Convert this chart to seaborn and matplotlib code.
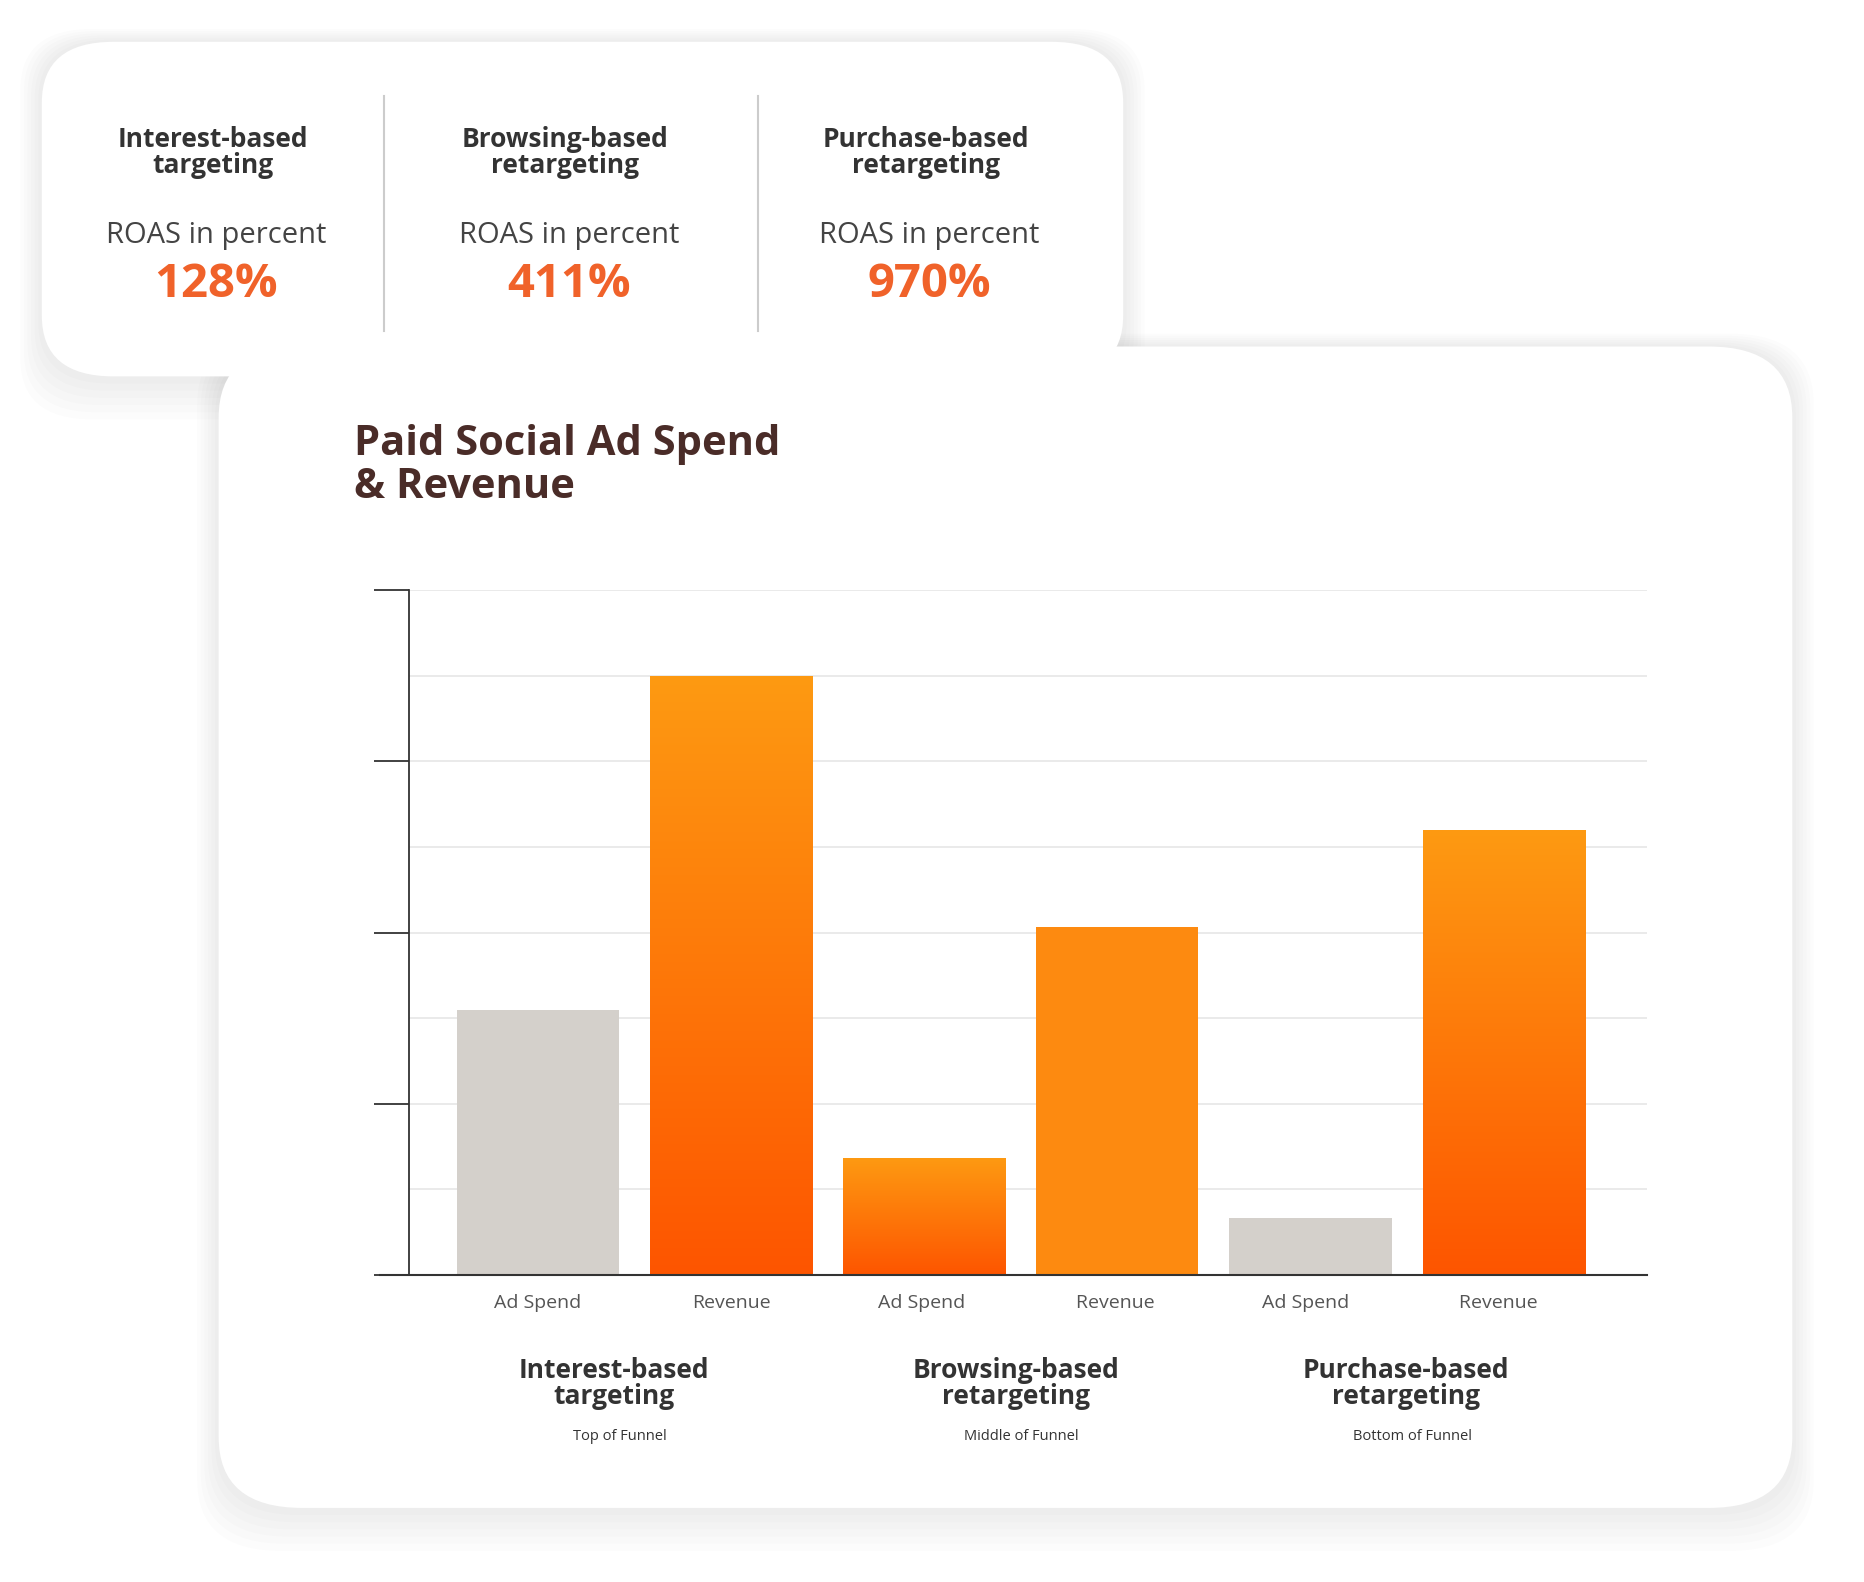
import matplotlib
matplotlib.use("Agg")
import matplotlib.pyplot as plt
import seaborn as sns
import numpy as np
import pandas as pd
from matplotlib.patches import FancyBboxPatch
from matplotlib.colors import LinearSegmentedColormap

bar_labels = ["Ad Spend", "Revenue", "Ad Spend ", "Revenue ", "Ad Spend  ", "Revenue  "]
bar_values = [3.09, 7.0, 1.37, 4.06, 0.66, 5.2]
bar_kind = ["spend", "revenue", "spend", "revenue", "spend", "revenue"]
groups = ["Interest-based\ntargeting", "Browsing-based\nretargeting", "Purchase-based\nretargeting"]
funnel = ["Top of Funnel", "Middle of Funnel", "Bottom of Funnel"]
roas = ["128%", "411%", "970%"]

W, H = 1560, 1324
fig = plt.figure(figsize=(18.64, 15.82), dpi=100)
fig.patch.set_facecolor("white")
FONT = "Open Sans"

def fx(x): return x / W
def fy(y): return 1 - y / H

def card(x0, y0, x1, y1, r):
    for i, a in enumerate([0.012, 0.012, 0.012, 0.012, 0.012, 0.012]):
        s = 6 + i * 6
        p = FancyBboxPatch((fx(x0 - s * 0.5), fy(y1 + s)), fx(x1 - x0 + s), (y1 - y0 + s * 1.3) / H,
                           boxstyle=f"round,pad=0,rounding_size={r/W}", transform=fig.transFigure,
                           fc="black", ec="none", alpha=a, zorder=1)
        fig.add_artist(p)
    p = FancyBboxPatch((fx(x0), fy(y1)), fx(x1 - x0), (y1 - y0) / H,
                       boxstyle=f"round,pad=0,rounding_size={r/W}", transform=fig.transFigure,
                       fc="white", ec="none", zorder=2)
    fig.add_artist(p)

card(183, 290, 1500, 1262, 70)
card(35, 35, 940, 315, 60)

# top card texts
cx = [178, 473, 775]
for i in range(3):
    fig.text(fx(cx[i]), fy(128), groups[i], ha="center", va="center", fontsize=19, fontweight="bold",
             color="#333333", family=FONT, linespacing=0.95, zorder=5)
    fig.text(fx(cx[i] + 3), fy(197), "ROAS in percent", ha="center", va="center", fontsize=21,
             color="#444444", family=FONT, zorder=5)
    fig.text(fx(cx[i] + 3), fy(238), roas[i], ha="center", va="center", fontsize=34, fontweight="bold",
             color="#F0622A", family=FONT, zorder=5)
for x in [321, 634]:
    fig.add_artist(plt.Line2D([fx(x), fx(x)], [fy(80), fy(277)], transform=fig.transFigure,
                              color="#cccccc", lw=1.5, zorder=5))

fig.text(fx(296), fy(390), "Paid Social Ad Spend\n& Revenue", ha="left", va="center", fontsize=30,
         fontweight="bold", color="#4A2C28", family=FONT, linespacing=1.05, zorder=5)

# chart
ax = fig.add_axes([fx(342), fy(1067), fx(1378 - 342), (1067 - 494) / H], zorder=4)
ax.set_facecolor("none")
df = pd.DataFrame({"label": bar_labels, "value": bar_values, "kind": bar_kind})
sns.barplot(data=df, x="label", y="value", hue="kind", order=bar_labels,
            palette={"spend": "#D4D0CB", "revenue": "#FD8A10"}, dodge=False, width=0.84,
            legend=False, ax=ax, saturation=1)
ax.set_xlim(-0.67, 5.74)
ax.set_ylim(0, 8)
ax.set_yticks(range(0, 9, 2))
ax.set_yticks(range(0, 9), minor=True)
ax.yaxis.grid(True, which="both", color="#e6e6e6", lw=1.2)
ax.set_axisbelow(True)
ax.set_yticklabels([])
ax.tick_params(axis="y", which="major", length=25, width=1.3, color="#333333")
ax.tick_params(axis="y", which="minor", length=0)
ax.tick_params(axis="x", length=0, pad=14, labelsize=14, labelcolor="#555555")
for l in ax.get_xticklabels():
    l.set_family(FONT)
for s in ["top", "right"]:
    ax.spines[s].set_visible(False)
ax.spines["left"].set_color("#333333")
ax.spines["left"].set_linewidth(1.3)
ax.spines["bottom"].set_visible(False)
ax.set_xlabel(""); ax.set_ylabel("")
fig.add_artist(plt.Line2D([fx(318), fx(1378)], [fy(1067), fy(1067)], transform=fig.transFigure,
                          color="#333333", lw=1.5, zorder=6))

cmap = LinearSegmentedColormap.from_list("g", ["#FE5500", "#FD9A12"])
grad = np.linspace(0, 1, 256).reshape(-1, 1)
for patch, kind in zip(ax.patches, bar_kind):
    if kind == "revenue":
        x0, y0 = patch.get_x(), patch.get_y()
        w, h = patch.get_width(), patch.get_height()
        im = ax.imshow(grad, extent=[x0, x0 + w, y0, y0 + h], origin="lower", cmap=cmap,
                       aspect="auto", zorder=patch.get_zorder() + 0.1)
        im.set_clip_path(patch)
ax.set_xlim(-0.67, 5.74); ax.set_ylim(0, 8)

gx = [514, 850, 1177]
for i in range(3):
    fig.text(fx(gx[i]), fy(1158), groups[i], ha="center", va="center", fontsize=19, fontweight="bold",
             color="#333333", family=FONT, linespacing=0.95, zorder=5)
    fig.text(fx(gx[i] + 5), fy(1202), funnel[i], ha="center", va="center", fontsize=10.5,
             color="#333333", family=FONT, zorder=5)

fig.savefig("out.png", dpi=100, facecolor="white")
